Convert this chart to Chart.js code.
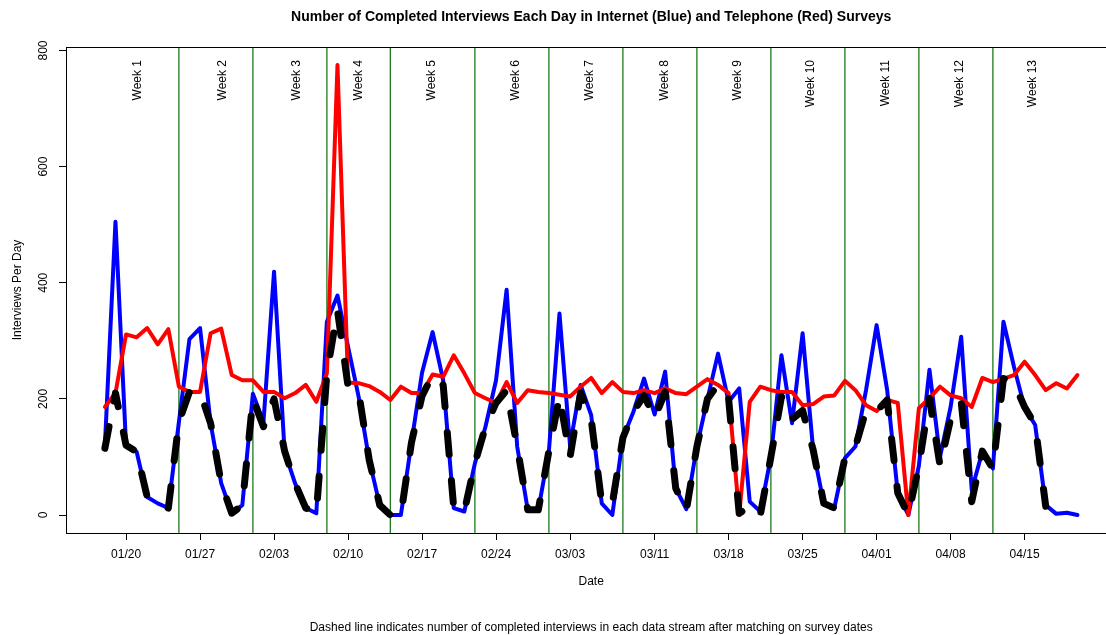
<!DOCTYPE html>
<html>
<head>
<meta charset="utf-8">
<title>Completed Interviews Each Day</title>
<script src="https://cdn.jsdelivr.net/npm/chart.js@4/dist/chart.umd.min.js"></script>
<style>
  html, body { margin: 0; padding: 0; background: #fff; }
</style>
</head>
<body>
<canvas id="chart" width="1106" height="635"></canvas>
<script>
/* ── Data ──────────────────────────────────────────────── */
// x is the day number, counted from 01/18 (day 0) to 04/20 (day 92)
const tickDays   = [2, 9, 16, 23, 30, 37, 44, 52, 59, 66, 73, 80, 87];
const tickLabels = ['01/20', '01/27', '02/03', '02/10', '02/17', '02/24', '03/03',
                    '03/11', '03/18', '03/25', '04/01', '04/08', '04/15'];
const yTicks     = [0, 200, 400, 600, 800];

const weekBreaks    = [7, 14, 21, 27, 35, 42, 49, 56, 63, 70, 77, 84];
const weekLabels    = ['Week 1', 'Week 2', 'Week 3', 'Week 4', 'Week 5', 'Week 6', 'Week 7',
                       'Week 8', 'Week 9', 'Week 10', 'Week 11', 'Week 12', 'Week 13'];
const weekLabelDays = [3.1, 11.1, 18.1, 24.0, 30.9, 38.9, 45.9, 53.0, 59.9, 66.8, 73.9, 80.9, 87.8];

// internet survey (blue)
const internet = [
  120, 505, 120, 109, 31, 20, 12, 160, 303, 322,
  158, 55, 3, 17, 209, 160, 419, 109, 54, 12,
  3, 333, 378, 290, 204, 95, 17, 0, 0, 125,
  245, 315, 232, 12, 6, 89, 152, 232, 388, 118,
  9, 9, 110, 347, 120, 224, 172, 20, 0, 133,
  178, 235, 173, 247, 46, 10, 118, 200, 278, 195,
  218, 23, 6, 100, 275, 158, 313, 112, 20, 12,
  98, 118, 215, 327, 215, 38, 0, 85, 250, 100,
  186, 307, 43, 109, 80, 333, 255, 185, 155, 17,
  2, 4, 0
];

// telephone survey (red)
const telephone = [
  186, 210, 311, 306, 322, 294, 320, 221, 212, 212,
  313, 321, 241, 232, 232, 212, 212, 201, 210, 224,
  195, 244, 775, 228, 227, 222, 212, 198, 221, 210,
  210, 242, 238, 275, 244, 210, 201, 193, 229, 193,
  215, 212, 210, 207, 204, 221, 236, 210, 229, 212,
  210, 215, 210, 218, 210, 208, 221, 234, 224, 210,
  0, 195, 221, 215, 212, 212, 189, 191, 204, 206,
  231, 215, 189, 179, 198, 193, 0, 184, 201, 221,
  206, 201, 186, 236, 229, 235, 241, 264, 241, 215,
  227, 218, 241
];

// after matching on survey dates (black dashed)
const matched = [
  115, 210, 120, 109, 31, 20, 12, 160, 212, 212,
  158, 55, 3, 17, 200, 152, 200, 110, 54, 12,
  3, 244, 352, 222, 212, 95, 17, 0, 0, 125,
  205, 241, 224, 12, 6, 89, 152, 193, 215, 118,
  9, 9, 110, 204, 100, 210, 165, 20, 20, 133,
  178, 206, 167, 212, 46, 8, 118, 200, 225, 200,
  3, 15, 0, 100, 204, 165, 180, 112, 20, 12,
  98, 118, 180, 179, 198, 38, 0, 85, 201, 85,
  165, 195, 23, 110, 80, 235, 227, 186, 155, 15,
  null, null, null
];

const FONT = '"Liberation Sans", Arial, Helvetica, sans-serif';
const toPoints = arr => arr.map((v, i) => ({ x: i, y: v }));

/* ── Frame, week lines and outer texts ─────────────────── */
const framePlugin = {
  id: 'frame',
  beforeDatasetsDraw(chart) {
    const { ctx, chartArea: a, scales: { x } } = chart;
    ctx.save();
    ctx.strokeStyle = '#1C7A1C';
    ctx.lineWidth = 1.3;
    weekBreaks.forEach(d => {
      const px = x.getPixelForValue(d);
      ctx.beginPath();
      ctx.moveTo(px, a.top);
      ctx.lineTo(px, a.bottom);
      ctx.stroke();
    });

    ctx.fillStyle = '#000';
    ctx.font = '12px ' + FONT;
    ctx.textAlign = 'right';
    ctx.textBaseline = 'middle';
    weekLabels.forEach((t, i) => {
      ctx.save();
      ctx.translate(x.getPixelForValue(weekLabelDays[i]), a.top + 13);
      ctx.rotate(-Math.PI / 2);
      ctx.fillText(t, 0, 0);
      ctx.restore();
    });
    ctx.restore();
  },
  afterDraw(chart) {
    const { ctx, chartArea: a, scales: { x } } = chart;
    const mid = x.getPixelForValue((internet.length - 1) / 2);
    ctx.save();
    ctx.strokeStyle = '#000';
    ctx.lineWidth = 1;
    ctx.strokeRect(a.left + 0.5, a.top + 0.5, a.right - a.left + 20, a.bottom - a.top);

    ctx.fillStyle = '#000';
    ctx.textAlign = 'center';
    ctx.textBaseline = 'middle';
    ctx.font = 'bold 14px ' + FONT;
    ctx.fillText('Number of Completed Interviews Each Day in Internet (Blue) and Telephone (Red) Surveys', mid, 17);
    ctx.font = '12px ' + FONT;
    ctx.fillText('Date', mid, 582);
    ctx.fillText('Dashed line indicates number of completed interviews in each data stream after matching on survey dates', mid, 628);
    ctx.restore();
  }
};

/* ── Chart ─────────────────────────────────────────────── */
Chart.defaults.font.family = FONT;
Chart.defaults.font.size = 12;
Chart.defaults.color = '#000';

new Chart(document.getElementById('chart'), {
  type: 'line',
  data: {
    datasets: [
      {
        label: 'Matched',
        data: toPoints(matched),
        borderColor: '#000000',
        borderWidth: 7,
        borderDash: [22, 26],
        borderCapStyle: 'round',
        borderJoinStyle: 'round',
        pointRadius: 0,
        spanGaps: false,
        order: 0
      },
      {
        label: 'Telephone',
        data: toPoints(telephone),
        borderColor: '#FF0000',
        borderWidth: 4,
        borderCapStyle: 'round',
        borderJoinStyle: 'round',
        pointRadius: 0,
        order: 1
      },
      {
        label: 'Internet',
        data: toPoints(internet),
        borderColor: '#0000FF',
        borderWidth: 4,
        borderCapStyle: 'round',
        borderJoinStyle: 'round',
        pointRadius: 0,
        order: 2
      }
    ]
  },
  options: {
    responsive: false,
    animation: false,
    events: [],
    layout: { padding: { top: 47, left: 0, right: 0, bottom: 0 } },
    plugins: { legend: { display: false }, tooltip: { enabled: false } },
    scales: {
      x: {
        type: 'linear',
        min: -3.68,
        max: 94.7,
        afterBuildTicks: s => { s.ticks = tickDays.map(v => ({ value: v })); },
        afterFit: s => { s.height = 102; },
        ticks: {
          autoSkip: false,
          maxRotation: 0,
          padding: 7,
          callback: (v, i) => tickLabels[i]
        },
        grid: { drawOnChartArea: false, drawTicks: true, tickLength: 7, color: '#000', lineWidth: 1 },
        border: { display: false }
      },
      y: {
        type: 'linear',
        min: -31,
        max: 806,
        afterBuildTicks: s => { s.ticks = yTicks.map(v => ({ value: v })); },
        afterFit: s => { s.width = 66; },
        ticks: { minRotation: 90, maxRotation: 90, crossAlign: 'center', padding: 5 },
        grid: { drawOnChartArea: false, drawTicks: true, tickLength: 7, color: '#000', lineWidth: 1 },
        border: { display: false },
        title: { display: true, text: 'Interviews Per Day', padding: { top: 10, bottom: 0 } }
      }
    }
  },
  plugins: [framePlugin]
});
</script>
</body>
</html>
